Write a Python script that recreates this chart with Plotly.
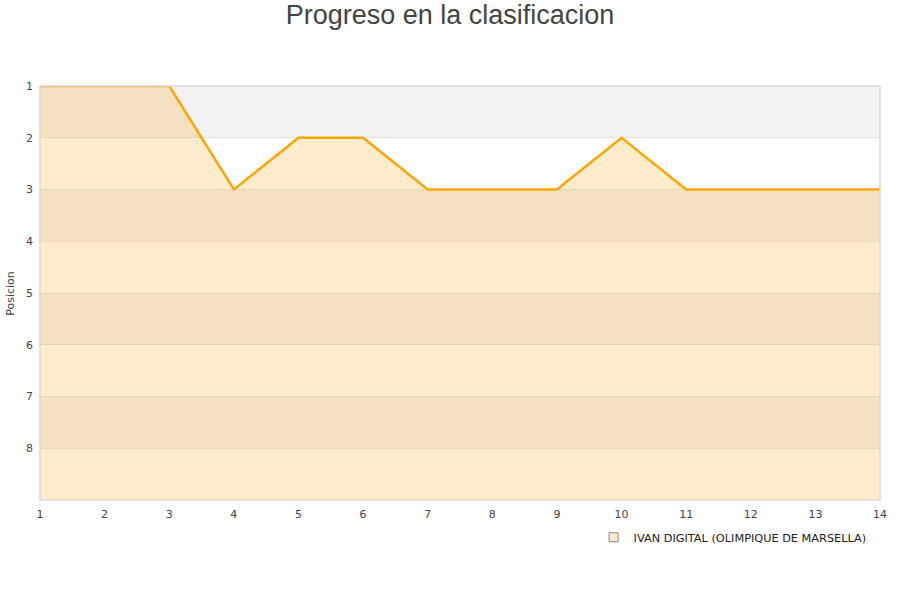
import plotly.graph_objects as go

jornadas = list(range(1, 15))
posiciones = [1, 1, 1, 3, 2, 2, 3, 3, 3, 2, 3, 3, 3, 3]
y_ticks = [1, 2, 3, 4, 5, 6, 7, 8]
fondo = 9
equipo = "IVAN DIGITAL (OLIMPIQUE DE MARSELLA)"

fig = go.Figure()
fig.add_trace(go.Scatter(x=jornadas, y=[fondo] * len(jornadas), mode="lines",
                         line=dict(width=0), showlegend=False, hoverinfo="skip"))
fig.add_trace(go.Scatter(x=jornadas, y=posiciones, mode="lines", fill="tonexty",
                         fillcolor="rgba(255,160,0,0.2)",
                         line=dict(color="#ffa500", width=2.5), showlegend=False))
fig.add_trace(go.Scatter(x=[None], y=[None], mode="markers", name=equipo,
                         marker=dict(symbol="square", size=9, color="#feebcb",
                                     line=dict(color="#888888", width=1))))

shapes = []
for k in range(1, fondo):
    if k % 2 == 1:
        shapes.append(dict(type="rect", xref="paper", yref="y", x0=0, x1=1, y0=k, y1=k + 1,
                           fillcolor="#f2f2f2", line=dict(width=0), layer="below"))
shapes.append(dict(type="rect", xref="paper", yref="paper", x0=0, x1=1, y0=0, y1=1,
                   line=dict(color="#d9d9d9", width=1.5), fillcolor="rgba(0,0,0,0)", layer="above"))
fig.update_layout(shapes=shapes)

fig.add_annotation(text="Posicion", xref="paper", yref="paper", x=-0.036, y=0.5,
                   xanchor="center", yanchor="middle", textangle=-90, showarrow=False,
                   font=dict(family="DejaVu Sans", size=11, color="#444444"))

fig.update_layout(
    width=900, height=600,
    margin=dict(l=40, r=20, t=86, b=100, autoexpand=False),
    paper_bgcolor="white", plot_bgcolor="white",
    title=dict(text="Progreso en la clasificacion", x=0.5, xanchor="center",
               xref="container", yref="container", y=0.975, yanchor="middle",
               font=dict(family="Liberation Sans, Arial", size=27, color="#444444")),
    xaxis=dict(range=[1, 14], tickvals=jornadas, showgrid=False, zeroline=False, automargin=False,
               tickfont=dict(family="DejaVu Sans", size=11, color="#444444"), ticks="", showline=False,
               ticklabelstandoff=6),
    yaxis=dict(range=[fondo, 1], tickvals=y_ticks, showgrid=True, gridcolor="rgba(0,0,0,0.07)",
               gridwidth=1, zeroline=False, ticks="", showline=False, automargin=False,
               ticklabelstandoff=6,
               tickfont=dict(family="DejaVu Sans", size=11, color="#444444")),
    legend=dict(orientation="h", x=0.99, xanchor="right", y=-0.055, yanchor="top",
                font=dict(family="DejaVu Sans", size=11.3, color="#222222"),
                bgcolor="rgba(0,0,0,0)"),
    showlegend=True,
)

fig.write_html("out.html", config={"displayModeBar": False},
               post_script="document.body.style.margin='0';")
